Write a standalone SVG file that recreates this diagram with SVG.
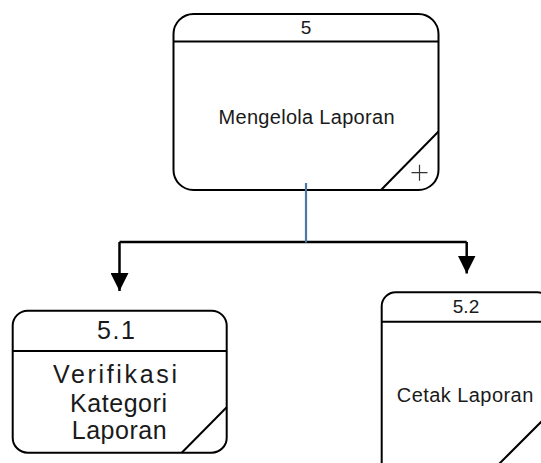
<svg xmlns="http://www.w3.org/2000/svg" width="541" height="463" viewBox="0 0 541 463">
<defs>
<style>
.box{fill:#fff;stroke:#000;stroke-width:2}
.ln{stroke:#000;stroke-width:2;fill:none}
.t{font-family:"Liberation Sans",Arial,sans-serif;fill:#1a1a1a;text-anchor:middle}
.conn{stroke:#000;stroke-width:2.5;fill:none}
</style>
<marker id="ah" markerWidth="18" markerHeight="18" viewBox="0 0 18 18" refX="18" refY="9" orient="auto" markerUnits="userSpaceOnUse">
<path d="M0,0 L18,9 L0,18 Z" fill="#000"/>
</marker>
</defs>
<rect width="541" height="463" fill="#fff"/>
<g id="node-5">
<rect class="box" x="173.5" y="14" width="265" height="176" rx="20" ry="20"/>
<line class="ln" x1="173.5" y1="41.5" x2="438.5" y2="41.5"/>
<line class="ln" x1="381" y1="190" x2="438.5" y2="131.5"/>
<path d="M411.5,172.7 H427.5 M419.5,164.7 V180.7" stroke="#333" stroke-width="1.2" fill="none"/>
<text class="t" x="306" y="33.5" font-size="19">5</text>
<text class="t" x="306.5" y="123.5" font-size="20" textLength="176" lengthAdjust="spacing">Mengelola Laporan</text>
</g>
<g id="node-5-1">
<rect class="box" x="12.7" y="310.7" width="214" height="142" rx="15" ry="15"/>
<line class="ln" x1="12.7" y1="351" x2="226.7" y2="351"/>
<line class="ln" x1="181.7" y1="452.7" x2="226.7" y2="407.3"/>
<text class="t" x="116" y="339.3" font-size="25" textLength="38" lengthAdjust="spacing">5.1</text>
<text class="t" x="115" y="383.3" font-size="25" textLength="124" lengthAdjust="spacing">Verifikasi</text>
<text class="t" x="118.5" y="411.5" font-size="25" textLength="97" lengthAdjust="spacing">Kategori</text>
<text class="t" x="119.2" y="439.3" font-size="25" textLength="95" lengthAdjust="spacing">Laporan</text>
</g>
<g id="node-5-2">
<rect class="box" x="381.7" y="292.3" width="170" height="190" rx="14" ry="14"/>
<line class="ln" x1="381.7" y1="321.7" x2="551.7" y2="321.7"/>
<line class="ln" x1="488" y1="475" x2="551.7" y2="411.3"/>
<text class="t" x="466" y="313.3" font-size="19" textLength="26.5" lengthAdjust="spacing">5.2</text>
<text class="t" x="465" y="401.7" font-size="20" textLength="136.5" lengthAdjust="spacing">Cetak Laporan</text>
</g>
<g id="connectors">
<path class="conn" d="M119.5,242 H466.7"/>
<path class="conn" d="M119.5,242 V291" marker-end="url(#ah)"/>
<path class="conn" d="M466.7,242 V273.5" marker-end="url(#ah)"/>
<line x1="306" y1="183" x2="306" y2="242.5" stroke="#4a78a8" stroke-width="2.2"/>
</g>
</svg>
